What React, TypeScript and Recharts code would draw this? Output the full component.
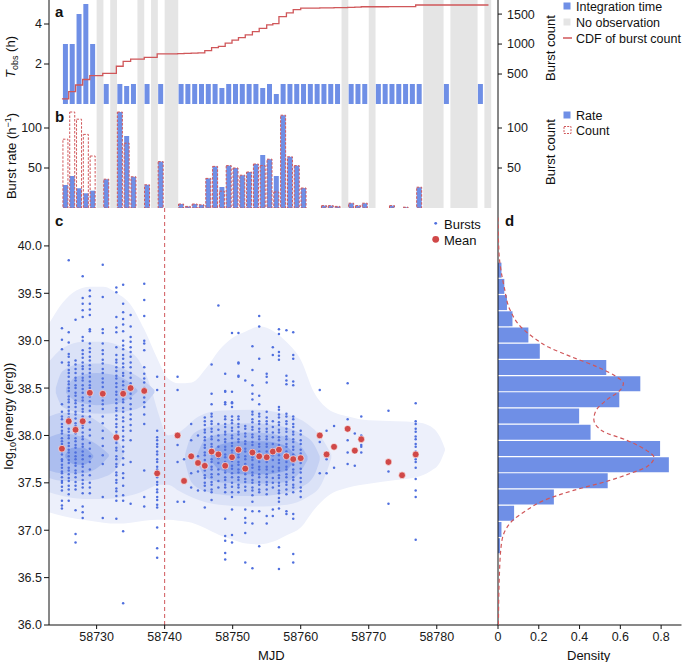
import React from 'react';
import {
  ComposedChart,
  Bar,
  Line,
  Area,
  Scatter,
  XAxis,
  YAxis,
  ReferenceArea,
  ReferenceLine,
} from 'recharts';

const FONT = '"Liberation Sans", Arial, Helvetica, sans-serif';
const BLUE = '#6f8fe6';
const RED = '#d0575a';
const GREY = '#e5e5e5';
const DOT = '#4f6fde';

// observed days (MJD), integration time (h) and burst count per day
const obsDay = [
  58725, 58726, 58727, 58728, 58729, 58731, 58733, 58734, 58735, 58737, 58739, 58742, 58743, 58744,
  58745, 58746, 58747, 58748, 58749, 58750, 58751, 58752, 58753, 58754, 58755, 58756, 58757, 58758,
  58759, 58760, 58761, 58762, 58763, 58764, 58765, 58767, 58768, 58769, 58771, 58772, 58773, 58774,
  58775, 58776, 58777, 58781, 58786,
];
const obsHours = [
  3, 3, 4.5, 5, 3, 1, 1, 0.9, 1, 1, 1, 1, 1, 1, 1, 1, 1, 0.8, 1, 1, 1, 1, 1, 0.8, 1, 0.5, 1, 1, 1, 1,
  1, 1, 1, 1, 1, 1, 1, 1, 1, 1, 1, 1, 1, 1, 1, 1, 1,
];
const obsCount = [
  86, 120, 111, 92, 65, 36, 120, 81, 39, 29, 58, 5, 2, 5, 4, 37, 52, 21, 53, 50, 41, 45, 55, 53, 61,
  20, 116, 64, 53, 25, 0, 0, 3, 3, 2, 6, 3, 6, 0, 0, 3, 0, 1, 0, 26, 0, 0,
];

// no-observation intervals
const gapStart = [58730, 58732, 58736, 58738, 58740, 58766, 58770, 58778, 58782, 58787];
const gapEnd = [58731, 58733, 58737, 58739, 58742, 58767, 58771, 58781, 58786, 58788];
const cdfEndMjd = 58787.6;

// burst epochs (one per day with bursts), mean energy and burst energies (log10 erg)
const burstMjd = [
  58724.9, 58725.9, 58726.9, 58727.95, 58729.0, 58730.9, 58732.9, 58733.9, 58735.0, 58737.0,
  58738.9, 58741.9, 58742.85, 58743.9, 58744.9, 58745.9, 58746.9, 58747.9, 58748.9, 58749.9,
  58750.85, 58751.85, 58752.9, 58753.9, 58755.0, 58755.9, 58756.8, 58757.9, 58758.9, 58760.0,
  58762.8, 58763.8, 58764.9, 58766.9, 58767.95, 58768.9, 58772.9, 58774.9, 58776.9,
];
const meanEnergy = [
  37.86, 38.15, 38.06, 38.15, 38.45, 38.44, 37.98, 38.44, 38.5, 38.47, 37.6, 38.0, 37.52, 37.78,
  37.71, 37.68, 37.83, 37.8, 37.68, 37.77, 37.85, 37.65, 37.82, 37.78, 37.77, 37.83, 37.85, 37.78,
  37.75, 37.76, 38.0, 37.8, 37.88, 38.07, 37.84, 37.96, 37.72, 37.58, 37.8,
];
const burstEnergy = [
  [39.13, 39.01, 38.91, 38.77, 38.33, 38.25, 38.2, 38.17, 38.12, 38.09, 38.05, 38.02, 37.97, 37.94, 37.91, 37.86, 37.83, 37.8, 37.75, 37.73, 37.69, 37.66, 37.62, 37.6, 37.56, 37.52, 37.5, 37.46, 37.42, 37.31, 37.26, 37.23],
  [39.85, 39.09, 38.98, 38.86, 38.83, 38.77, 38.74, 38.69, 38.66, 38.62, 38.57, 38.54, 38.5, 38.47, 38.41, 38.38, 38.35, 38.3, 38.26, 38.23, 38.19, 38.15, 38.12, 38.07, 38.04, 38.0, 37.97, 37.92, 37.89, 37.85, 37.82, 37.78, 37.74, 37.71, 37.66, 37.63, 37.59, 37.55, 37.52, 37.47, 37.43, 37.38, 37.31],
  [39.22, 38.79, 38.75, 38.7, 38.66, 38.61, 38.58, 38.53, 38.5, 38.45, 38.42, 38.37, 38.34, 38.3, 38.25, 38.22, 38.18, 38.13, 38.1, 38.06, 38.02, 37.97, 37.94, 37.9, 37.87, 37.82, 37.78, 37.75, 37.71, 37.68, 37.63, 37.6, 37.56, 37.51, 37.47, 37.43, 37.21, 36.96, 36.87],
  [39.68, 39.45, 39.39, 39.32, 39.25, 39.04, 39.0, 38.9, 38.86, 38.82, 38.77, 38.73, 38.7, 38.65, 38.61, 38.58, 38.53, 38.49, 38.45, 38.4, 38.37, 38.32, 38.28, 38.25, 38.2, 38.16, 38.11, 38.08, 38.03, 37.99, 37.96, 37.91, 37.88, 37.83, 37.79, 37.75, 37.7, 37.67, 37.62, 37.58, 37.53, 37.49, 37.45, 37.39, 37.25, 37.19, 37.13],
  [39.53, 39.47, 39.39, 39.33, 39.27, 39.12, 39.1, 38.97, 38.92, 38.88, 38.83, 38.79, 38.74, 38.7, 38.66, 38.62, 38.57, 38.53, 38.5, 38.44, 38.41, 38.36, 38.31, 38.26, 38.2, 38.14, 38.06, 38.0, 37.92, 37.86, 37.78, 37.72, 37.64, 37.58, 37.5, 37.45, 37.39],
  [39.8, 39.46, 39.12, 39.08, 38.97, 38.9, 38.86, 38.8, 38.76, 38.7, 38.66, 38.6, 38.56, 38.51, 38.45, 38.41, 38.37, 38.33, 38.28, 38.2, 38.13, 38.05, 37.97, 37.89, 37.79, 37.7, 37.35, 37.13],
  [39.56, 39.51, 39.25, 39.14, 39.09, 38.93, 38.85, 38.8, 38.77, 38.72, 38.68, 38.63, 38.6, 38.55, 38.51, 38.46, 38.43, 38.38, 38.34, 38.29, 38.26, 38.21, 38.17, 38.12, 38.09, 38.04, 38.01, 37.95, 37.92, 37.87, 37.84, 37.78, 37.75, 37.7, 37.67, 37.61, 37.58, 37.53, 37.5, 37.44, 37.41, 37.36, 37.31, 37.12],
  [39.59, 39.39, 39.3, 39.23, 39.17, 39.1, 39.0, 38.95, 38.91, 38.85, 38.81, 38.76, 38.72, 38.66, 38.63, 38.57, 38.53, 38.48, 38.44, 38.38, 38.35, 38.29, 38.25, 38.19, 38.15, 38.09, 38.05, 37.99, 37.95, 37.88, 37.83, 37.76, 37.69, 37.6, 37.55, 37.47, 37.37, 37.31, 36.99, 36.23],
  [39.27, 39.15, 39.04, 38.99, 38.93, 38.88, 38.83, 38.77, 38.72, 38.66, 38.61, 38.55, 38.5, 38.44, 38.39, 38.33, 38.28, 38.22, 38.17, 38.11, 38.05, 37.95, 37.72, 37.28],
  [39.6, 39.43, 39.26, 39.0, 38.97, 38.9, 38.72, 38.65, 38.6, 38.56, 38.5, 38.46, 38.4, 38.35, 38.3, 38.22, 38.12, 37.63, 37.35, 37.25],
  [38.62, 38.48, 38.05, 37.98, 37.95, 37.91, 37.88, 37.83, 37.8, 37.75, 37.72, 37.67, 37.64, 37.59, 37.56, 37.51, 37.48, 37.43, 37.4, 37.35, 37.32, 37.27, 37.24, 37.03, 36.81, 36.71],
  [38.62, 38.48, 37.9, 37.72, 37.3],
  [37.75, 37.3],
  [38.12, 37.95, 37.78, 37.6, 37.45],
  [38.0, 37.78, 37.62, 37.42],
  [38.19, 38.15, 38.11, 38.06, 38.03, 37.98, 37.95, 37.9, 37.87, 37.82, 37.79, 37.74, 37.71, 37.66, 37.63, 37.58, 37.55, 37.5, 37.47, 37.42, 37.24],
  [38.75, 38.44, 38.33, 38.23, 38.2, 38.15, 38.12, 38.07, 38.04, 37.99, 37.96, 37.91, 37.88, 37.83, 37.8, 37.75, 37.72, 37.67, 37.64, 37.59, 37.56, 37.51, 37.48, 37.43, 37.4, 37.32],
  [39.37, 38.12, 38.06, 38.0, 37.95, 37.88, 37.83, 37.76, 37.71, 37.64, 37.59, 37.52, 37.45],
  [38.65, 38.47, 38.46, 38.35, 38.33, 38.2, 38.17, 38.12, 38.09, 38.04, 38.01, 37.96, 37.93, 37.88, 37.85, 37.8, 37.77, 37.72, 37.69, 37.64, 37.61, 37.56, 37.53, 37.48, 37.45, 37.4, 37.12, 36.94, 36.89, 36.76, 36.69],
  [39.08, 38.46, 38.35, 38.34, 38.3, 38.2, 38.16, 38.13, 38.08, 38.05, 38.0, 37.97, 37.92, 37.89, 37.84, 37.81, 37.76, 37.73, 37.68, 37.65, 37.6, 37.56, 37.5, 37.46, 37.4, 37.35, 37.22, 36.95, 36.87],
  [39.08, 38.77, 38.76, 38.63, 38.62, 38.2, 38.17, 38.12, 38.09, 38.04, 38.01, 37.96, 37.93, 37.88, 37.85, 37.8, 37.77, 37.72, 37.69, 37.64, 37.61, 37.56, 37.53, 37.48, 37.45, 37.4],
  [38.58, 38.1, 38.07, 38.02, 37.99, 37.94, 37.91, 37.86, 37.83, 37.78, 37.75, 37.7, 37.67, 37.62, 37.59, 37.54, 37.51, 37.46, 37.42, 37.22, 37.13, 37.08, 36.97, 36.66],
  [38.94, 38.69, 38.53, 38.44, 38.38, 38.25, 38.22, 38.17, 38.14, 38.09, 38.06, 38.01, 37.98, 37.93, 37.9, 37.85, 37.82, 37.77, 37.74, 37.69, 37.66, 37.61, 37.58, 37.53, 37.5, 37.45, 37.42, 37.37, 37.3, 37.2, 37.07, 36.6],
  [39.26, 39.15, 38.81, 38.42, 38.33, 38.23, 38.2, 38.15, 38.12, 38.07, 38.04, 37.99, 37.96, 37.91, 37.88, 37.83, 37.8, 37.75, 37.72, 37.67, 37.64, 37.59, 37.56, 37.51, 37.48, 37.43, 37.4, 37.2, 36.83],
  [38.65, 38.62, 38.56, 38.25, 38.19, 38.15, 38.12, 38.07, 38.04, 37.99, 37.96, 37.91, 37.88, 37.83, 37.8, 37.75, 37.72, 37.67, 37.64, 37.59, 37.56, 37.51, 37.48, 37.43, 37.38, 37.15, 37.07],
  [38.93, 38.85, 38.15, 38.09, 38.03, 37.98, 37.91, 37.86, 37.79, 37.74, 37.67, 37.62, 37.55, 37.5, 37.45, 37.22, 37.15],
  [39.12, 39.07, 38.88, 38.84, 38.8, 38.3, 38.27, 38.22, 38.19, 38.14, 38.11, 38.06, 38.03, 37.98, 37.95, 37.9, 37.87, 37.82, 37.79, 37.74, 37.71, 37.66, 37.63, 37.58, 37.55, 37.5, 37.47, 37.42, 37.39, 37.34, 37.3, 37.23, 36.82, 36.59],
  [39.11, 38.63, 38.58, 38.54, 38.23, 38.2, 38.15, 38.12, 38.07, 38.04, 37.99, 37.96, 37.91, 37.88, 37.83, 37.8, 37.75, 37.72, 37.67, 37.64, 37.59, 37.56, 37.51, 37.48, 37.43, 37.38, 37.2, 37.17],
  [39.09, 38.85, 38.81, 38.57, 38.53, 38.2, 38.17, 38.12, 38.09, 38.04, 38.01, 37.96, 37.93, 37.88, 37.85, 37.8, 37.77, 37.72, 37.69, 37.64, 37.61, 37.56, 37.53, 37.48, 37.45, 37.4, 37.17, 37.12, 36.75, 36.66],
  [38.05, 38.01, 37.95, 37.91, 37.85, 37.81, 37.75, 37.71, 37.65, 37.61, 37.55, 37.51, 37.45, 37.41, 37.35],
  [38.48, 37.93, 37.6],
  [38.05, 37.75, 37.6],
  [38.1, 37.66],
  [38.55, 38.17, 38.05, 37.95, 37.82, 37.7],
  [38.02, 37.82, 37.68],
  [38.2, 38.0, 37.95, 37.9, 37.88, 37.82],
  [38.26, 37.62, 37.28],
  [37.58],
  [38.34, 38.15, 38.12, 38.07, 38.04, 37.99, 37.96, 37.91, 37.88, 37.83, 37.8, 37.75, 37.72, 37.66, 37.54, 37.42, 37.35, 36.9],
];

// energy histogram (bin centre, density) and the two-component fit
const histCentre = [
  39.748, 39.577, 39.406, 39.235, 39.064, 38.893, 38.722, 38.551, 38.38, 38.209, 38.038, 37.867,
  37.696, 37.525, 37.354, 37.183, 37.012, 36.841,
];
const histDensity = [
  0.017, 0.031, 0.044, 0.071, 0.149, 0.205, 0.531, 0.698, 0.595, 0.398, 0.454, 0.795, 0.838, 0.538,
  0.274, 0.079, 0.017, 0.01,
];
const fitEnergy = [
  40.3, 39.92, 39.57, 39.32, 39.15, 39.04, 38.93, 38.83, 38.72, 38.62, 38.55, 38.48, 38.37, 38.26,
  38.17, 38.05, 37.95, 37.84, 37.77, 37.67, 37.6, 37.52, 37.42, 37.31, 37.21, 37.1, 37.0, 36.86,
  36.54, 36.0,
];
const fitDensity = [
  0.0, 0.005, 0.03, 0.06, 0.11, 0.17, 0.25, 0.36, 0.49, 0.58, 0.615, 0.6, 0.53, 0.48, 0.47, 0.51,
  0.63, 0.73, 0.765, 0.73, 0.65, 0.54, 0.37, 0.22, 0.14, 0.07, 0.036, 0.017, 0.007, 0.002,
];

// density contours: [MJD, lower energy, upper energy]
const contourOuter = [
  [58723, 37.19, 39.18], [58725, 37.15, 39.4], [58727, 37.12, 39.53], [58729, 37.1, 39.57],
  [58731, 37.08, 39.57], [58733, 37.07, 39.5], [58735, 37.08, 39.38], [58737, 37.1, 39.12],
  [58739, 37.11, 38.8], [58740.5, 37.11, 38.6], [58742, 37.1, 38.55], [58744, 37.08, 38.56],
  [58746, 37.02, 38.7], [58748, 36.95, 38.9], [58750, 36.9, 39.03], [58752, 36.86, 39.1],
  [58754, 36.85, 39.15], [58756, 36.88, 39.1], [58758, 36.95, 38.98], [58760, 37.03, 38.8],
  [58762, 37.22, 38.45], [58764, 37.36, 38.28], [58767, 37.45, 38.2], [58770, 37.49, 38.16],
  [58774, 37.53, 38.15], [58777, 37.56, 38.14], [58779, 37.62, 38.1], [58780.5, 37.72, 37.98],
  [58781.2, 37.84, 37.86],
];
const contourMid = [
  [58723, 37.4, 38.78], [58725, 37.36, 38.92], [58728, 37.33, 38.99], [58731, 37.33, 38.99],
  [58734, 37.35, 38.92], [58736.5, 37.4, 38.76], [58738, 37.45, 38.5], [58739, 37.48, 38.25],
  [58740.5, 37.48, 38.0], [58742, 37.42, 38.03], [58745, 37.32, 38.2], [58748, 37.27, 38.26],
  [58753, 37.25, 38.27], [58758, 37.27, 38.22], [58761, 37.35, 38.12], [58763, 37.48, 37.98],
  [58764.5, 37.76, 37.8],
];
const contourUpperLeft = [
  [58724, 38.45, 38.5], [58725, 38.3, 38.68], [58728, 38.24, 38.76], [58731, 38.23, 38.76],
  [58734, 38.25, 38.7], [58736.5, 38.3, 38.6], [58738.5, 38.45, 38.48],
];
const contourUpperLeftCore = [
  [58725.5, 38.45, 38.5], [58727, 38.36, 38.62], [58730, 38.32, 38.66], [58733, 38.34, 38.63],
  [58735, 38.4, 38.55], [58736, 38.46, 38.48],
];
const contourLowerLeft = [
  [58723, 37.55, 38.2], [58725, 37.52, 38.24], [58728, 37.52, 38.22], [58731, 37.56, 38.1],
  [58733, 37.66, 37.96], [58734, 37.8, 37.82],
];
const contourLowerLeftInner = [
  [58723, 37.63, 37.98], [58725, 37.6, 38.02], [58728, 37.6, 37.98], [58730.5, 37.68, 37.88],
  [58731.8, 37.78, 37.8],
];
const contourLowerLeftCore = [
  [58725.4, 37.77, 37.8], [58726.5, 37.7, 37.87], [58728, 37.69, 37.87], [58729.5, 37.77, 37.79],
];
const contourRight = [
  [58743, 37.72, 37.8], [58744, 37.5, 38.0], [58746, 37.41, 38.08], [58749, 37.37, 38.12],
  [58753, 37.36, 38.13], [58757, 37.38, 38.1], [58760, 37.45, 38.02], [58762, 37.58, 37.9],
  [58762.8, 37.74, 37.78],
];
const contourRightInner = [
  [58744.8, 37.73, 37.8], [58746, 37.56, 37.96], [58749, 37.5, 38.02], [58753, 37.49, 38.03],
  [58757, 37.5, 38.0], [58759.5, 37.58, 37.93], [58761, 37.74, 37.78],
];
const contourRightCore = [
  [58746.8, 37.74, 37.8], [58748, 37.64, 37.9], [58751, 37.59, 37.94], [58754.5, 37.59, 37.94],
  [58757.5, 37.62, 37.9], [58759.3, 37.75, 37.79],
];

const X_DOMAIN = [58723, 58789];
const BAR_OFFSET = 0.4;

const obsData = obsDay.map((d, i) => ({
  x: d + BAR_OFFSET,
  hours: obsHours[i],
  count: obsCount[i] > 0 ? obsCount[i] : null,
  rate: obsCount[i] > 0 ? obsCount[i] / obsHours[i] : null,
}));

const cdfData: { x: number; cdf: number }[] = [];
{
  let k = 0;
  let total = 0;
  obsDay.forEach((_, i) => {
    if (obsCount[i] > 0) {
      total += obsCount[i];
      cdfData.push({ x: burstMjd[k], cdf: total });
      k++;
    }
  });
  cdfData.push({ x: cdfEndMjd, cdf: total });
}

const burstPoints = burstEnergy.flatMap((es, i) => es.map((e) => ({ x: burstMjd[i], y: e })));
const meanPoints = meanEnergy.map((e, i) => ({ x: burstMjd[i], y: e }));
const histData = histCentre.map((e, i) => ({ e, d: histDensity[i] }));
const fitData = fitEnergy.map((e, i) => ({ e, d: fitDensity[i] }));

const toRange = (rows: number[][]) => rows.map(([x, lo, hi]) => ({ x, r: [lo, hi] }));

const contourLayers = [
  { rows: contourOuter, fill: '#edf0fb' },
  { rows: contourMid, fill: '#dbe2f7' },
  { rows: contourUpperLeft, fill: '#c5d1f3' },
  { rows: contourLowerLeft, fill: '#c5d1f3' },
  { rows: contourRight, fill: '#c5d1f3' },
  { rows: contourUpperLeftCore, fill: '#acbeef' },
  { rows: contourLowerLeftInner, fill: '#acbeef' },
  { rows: contourRightInner, fill: '#acbeef' },
  { rows: contourLowerLeftCore, fill: '#8ea7ea' },
  { rows: contourRightCore, fill: '#8ea7ea' },
];

const TICK = { fontSize: 12.5, fill: '#1a1a1a', fontFamily: FONT };
const AXIS = { stroke: '#111', strokeWidth: 1 };

const BurstDot = (p: any) => <circle cx={p.cx} cy={p.cy} r={1.25} fill={DOT} />;
const MeanDot = (p: any) => (
  <circle cx={p.cx} cy={p.cy} r={3.4} fill="#d04848" stroke="#fff" strokeWidth={0.6} />
);

function Txt({ x, y, children, size = 13, bold = false }: any) {
  return (
    <div
      style={{
        position: 'absolute',
        left: x,
        top: y,
        transform: 'translateY(-50%)',
        fontSize: size,
        fontWeight: bold ? 700 : 400,
        whiteSpace: 'nowrap',
        lineHeight: 1,
        color: '#111',
      }}
    >
      {children}
    </div>
  );
}

function VLabel({ x, y, children }: any) {
  return (
    <div
      style={{
        position: 'absolute',
        left: x,
        top: y,
        transform: 'translate(-50%, -50%) rotate(-90deg)',
        fontSize: 13,
        whiteSpace: 'nowrap',
        lineHeight: 1,
        color: '#111',
      }}
    >
      {children}
    </div>
  );
}

function Swatch({ x, y, kind }: any) {
  return (
    <svg style={{ position: 'absolute', left: x, top: y - 5 }} width={10} height={10}>
      {kind === 'blue' && <rect x={0.5} y={1.5} width={7} height={7} fill={BLUE} />}
      {kind === 'grey' && <rect x={0.5} y={1.5} width={7} height={7} fill={GREY} />}
      {kind === 'line' && <line x1={0} x2={9} y1={5} y2={5} stroke={RED} strokeWidth={1.5} />}
      {kind === 'dash' && (
        <rect x={1} y={1.5} width={7} height={7} fill="none" stroke={RED} strokeDasharray="2 1.2" />
      )}
    </svg>
  );
}

const Abs = ({ x, y, children }: any) => (
  <div style={{ position: 'absolute', left: x, top: y }}>{children}</div>
);

function PanelA() {
  return (
    <ComposedChart width={685} height={106} data={obsData} margin={{ top: 0, right: 0, bottom: 2, left: 0 }}>
      <XAxis type="number" dataKey="x" domain={X_DOMAIN} allowDataOverflow height={0} tick={false} tickLine={false} axisLine={AXIS} />
      <YAxis yAxisId="h" type="number" domain={[0, 5.2]} allowDataOverflow ticks={[0, 2, 4]} width={49} tick={TICK} tickSize={5} tickMargin={2} axisLine={AXIS} tickLine={AXIS} />
      <YAxis yAxisId="c" orientation="right" type="number" domain={[0, 1735]} allowDataOverflow ticks={[500, 1000, 1500]} width={187} tick={TICK} tickSize={4} tickMargin={5} axisLine={AXIS} tickLine={AXIS} />
      {gapStart.map((s, i) => (
        <ReferenceArea key={i} yAxisId="h" x1={s} x2={gapEnd[i]} fill={GREY} fillOpacity={1} stroke="none" />
      ))}
      <Bar yAxisId="h" dataKey="hours" fill={BLUE} barSize={5} isAnimationActive={false} />
    </ComposedChart>
  );
}

// CDF drawn on its own layer so its epochs do not narrow the bars
function PanelACdf() {
  return (
    <ComposedChart width={685} height={106} data={cdfData} margin={{ top: 0, right: 187, bottom: 2, left: 49 }}>
      <XAxis type="number" dataKey="x" domain={X_DOMAIN} allowDataOverflow hide />
      <YAxis yAxisId="c" type="number" domain={[0, 1735]} allowDataOverflow hide />
      <Line yAxisId="c" dataKey="cdf" type="stepAfter" stroke={RED} strokeWidth={1.3} dot={false} isAnimationActive={false} />
    </ComposedChart>
  );
}

function PanelB() {
  return (
    <ComposedChart width={685} height={106} data={obsData} barGap={-5} margin={{ top: 0, right: 0, bottom: 2, left: 0 }}>
      <XAxis type="number" dataKey="x" domain={X_DOMAIN} allowDataOverflow height={0} tick={false} tickLine={false} axisLine={AXIS} />
      <YAxis yAxisId="r" type="number" domain={[0, 130]} allowDataOverflow ticks={[0, 50, 100]} width={49} tick={TICK} tickSize={5} tickMargin={2} axisLine={AXIS} tickLine={AXIS} />
      <YAxis yAxisId="c" orientation="right" type="number" domain={[0, 130]} allowDataOverflow ticks={[50, 100]} width={187} tick={TICK} tickSize={4} tickMargin={5} axisLine={AXIS} tickLine={AXIS} />
      {gapStart.map((s, i) => (
        <ReferenceArea key={i} yAxisId="r" x1={s} x2={gapEnd[i]} fill={GREY} fillOpacity={1} stroke="none" />
      ))}
      <Bar yAxisId="r" dataKey="rate" fill={BLUE} barSize={5} isAnimationActive={false} />
      <Bar yAxisId="c" dataKey="count" fill="none" stroke={RED} strokeWidth={1} strokeDasharray="2.5 1.5" barSize={5} isAnimationActive={false} />
    </ComposedChart>
  );
}

function PanelC() {
  return (
    <ComposedChart width={685} height={454} margin={{ top: 0, right: 187, bottom: 0, left: 0 }}>
      <XAxis type="number" dataKey="x" domain={X_DOMAIN} allowDataOverflow ticks={[58730, 58740, 58750, 58760, 58770, 58780]} interval={0} height={37} tick={TICK} tickSize={4} tickMargin={3} axisLine={AXIS} tickLine={AXIS} />
      <YAxis type="number" dataKey="y" domain={[36, 40.4]} allowDataOverflow ticks={[36, 36.5, 37, 37.5, 38, 38.5, 39, 39.5, 40]} interval={0} tickFormatter={(v: number) => v.toFixed(1)} width={49} tick={TICK} tickSize={5} tickMargin={2} axisLine={AXIS} tickLine={AXIS} />
      {contourLayers.map((c, i) => (
        <Area key={i} data={toRange(c.rows)} dataKey="r" type="monotone" fill={c.fill} fillOpacity={1} stroke="none" isAnimationActive={false} />
      ))}
      <ReferenceLine x={58740} stroke={RED} strokeWidth={1} strokeDasharray="4 3" />
      <Scatter data={burstPoints} dataKey="y" shape={BurstDot} isAnimationActive={false} />
      <Scatter data={meanPoints} dataKey="y" shape={MeanDot} isAnimationActive={false} />
    </ComposedChart>
  );
}

// in vertical layout the energy axis runs top-down by default, so it is reversed here
function PanelD() {
  return (
    <ComposedChart layout="vertical" width={197} height={454} data={histData} margin={{ top: 0, right: 3.5, bottom: 0, left: 9 }}>
      <XAxis type="number" domain={[0, 0.9]} allowDataOverflow ticks={[0, 0.2, 0.4, 0.6, 0.8]} interval={0} tickFormatter={(v: number) => (v === 0 ? '0' : String(v))} height={37} tick={TICK} tickSize={4} tickMargin={3} axisLine={AXIS} tickLine={AXIS} />
      <YAxis type="number" dataKey="e" domain={[36, 40.4]} reversed allowDataOverflow width={1} tick={false} tickLine={false} axisLine={AXIS} />
      <Bar dataKey="d" fill={BLUE} barSize={15} isAnimationActive={false} />
    </ComposedChart>
  );
}

function PanelDFit() {
  return (
    <ComposedChart layout="vertical" width={197} height={454} data={fitData} margin={{ top: 0, right: 3.5, bottom: 37, left: 10 }}>
      <XAxis type="number" domain={[0, 0.9]} allowDataOverflow hide />
      <YAxis type="number" dataKey="e" domain={[36, 40.4]} reversed allowDataOverflow hide />
      <Line dataKey="d" type="monotone" stroke={RED} strokeWidth={1.2} strokeDasharray="4 3" dot={false} isAnimationActive={false} />
    </ComposedChart>
  );
}

export default function App() {
  return (
    <div style={{ position: 'absolute', left: 0, top: 0, width: 685, height: 662, background: '#fff', fontFamily: FONT, overflow: 'hidden' }}>
      <Abs x={0} y={0}><PanelA /></Abs>
      <Abs x={0} y={0}><PanelACdf /></Abs>
      <Abs x={0} y={104}><PanelB /></Abs>
      <Abs x={0} y={208}><PanelC /></Abs>
      <Abs x={488} y={208}><PanelD /></Abs>
      <Abs x={488} y={208}><PanelDFit /></Abs>

      <Txt x={55} y={11} size={15} bold>a</Txt>
      <Txt x={55} y={116} size={15} bold>b</Txt>
      <Txt x={55} y={220} size={15} bold>c</Txt>
      <Txt x={505} y={220} size={15} bold>d</Txt>

      <VLabel x={12} y={57}>
        <i>T</i>
        <span style={{ fontSize: 9, verticalAlign: '-3px' }}>obs</span> (h)
      </VLabel>
      <VLabel x={11} y={156}>
        Burst rate (h<span style={{ fontSize: 9, verticalAlign: '5px' }}>−1</span>)
      </VLabel>
      <VLabel x={10} y={416}>
        log<span style={{ fontSize: 9, verticalAlign: '-3px' }}>10</span>(energy (erg))
      </VLabel>
      <VLabel x={550} y={48}>Burst count</VLabel>
      <VLabel x={550} y={152}>Burst count</VLabel>

      <Txt x={258} y={655}>MJD</Txt>
      <Txt x={567} y={655}>Density</Txt>

      <Swatch x={563} y={6} kind="blue" />
      <Txt x={576} y={7} size={12.5}>Integration time</Txt>
      <Swatch x={563} y={22} kind="grey" />
      <Txt x={576} y={23} size={12.5}>No observation</Txt>
      <Swatch x={563} y={38} kind="line" />
      <Txt x={576} y={39} size={12.5}>CDF of burst count</Txt>

      <Swatch x={563} y={115} kind="blue" />
      <Txt x={576} y={116} size={12.5}>Rate</Txt>
      <Swatch x={563} y={130} kind="dash" />
      <Txt x={576} y={131} size={12.5}>Count</Txt>

      <svg style={{ position: 'absolute', left: 428, top: 215 }} width={16} height={32}>
        <circle cx={7.7} cy={8.3} r={1.4} fill={DOT} />
        <circle cx={7.7} cy={24.3} r={3.4} fill="#d04848" />
      </svg>
      <Txt x={444} y={224}>Bursts</Txt>
      <Txt x={444} y={240}>Mean</Txt>
    </div>
  );
}
